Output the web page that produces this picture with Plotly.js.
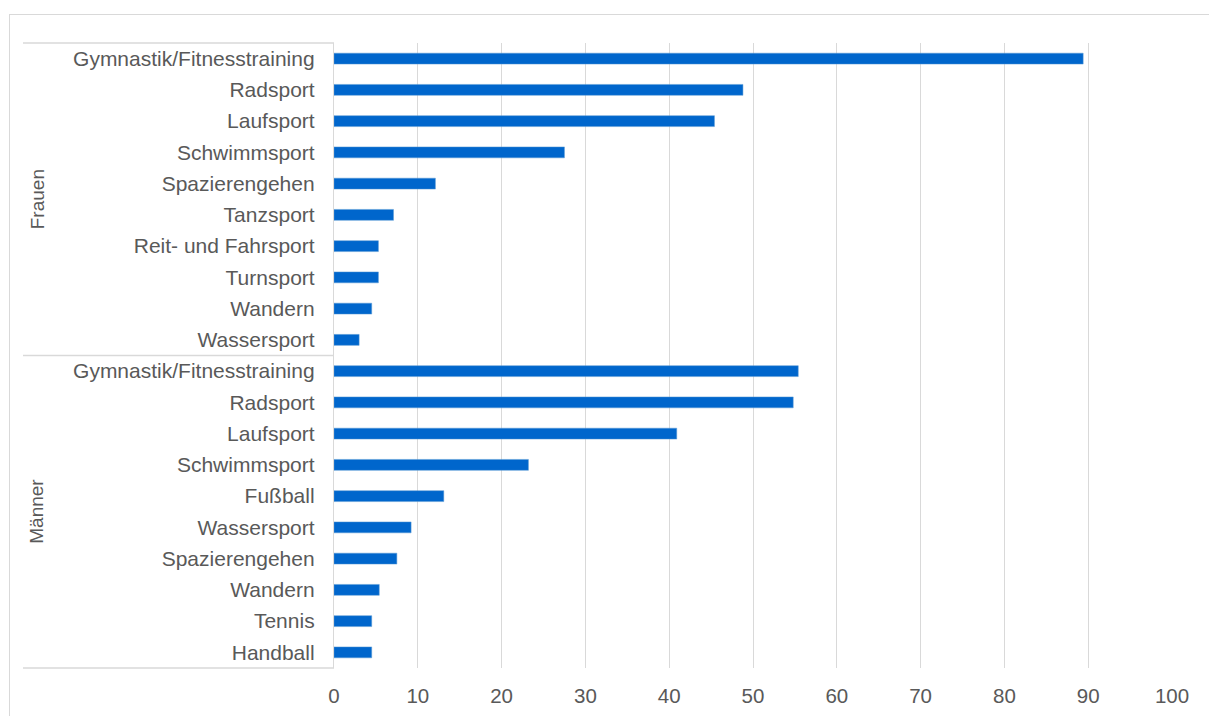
<!DOCTYPE html>
<html>
<head>
<meta charset="utf-8">
<script src="https://cdn.plot.ly/plotly-3.0.1.min.js"></script>
<style>
html,body{margin:0;padding:0;background:#fff;}
#frame{position:absolute;left:9px;top:14px;width:1210px;height:720px;border:1px solid #d9d9d9;box-sizing:border-box;}
#chart{position:absolute;left:0;top:0;width:1209px;height:716px;}
</style>
</head>
<body>
<div id="frame"></div>
<div id="chart"></div>
<script>
const groups = ["Frauen", "Männer"];
const frauenCategories = ["Gymnastik/Fitnesstraining","Radsport","Laufsport","Schwimmsport","Spazierengehen","Tanzsport","Reit- und Fahrsport","Turnsport","Wandern","Wassersport"];
const frauenValues = [89.4, 48.8, 45.4, 27.5, 12.1, 7.1, 5.3, 5.3, 4.5, 3.0];
const maennerCategories = ["Gymnastik/Fitnesstraining","Radsport","Laufsport","Schwimmsport","Fußball","Wassersport","Spazierengehen","Wandern","Tennis","Handball"];
const maennerValues = [55.4, 54.8, 40.9, 23.2, 13.1, 9.2, 7.5, 5.4, 4.5, 4.5];
const xTicks = [0,10,20,30,40,50,60,70,80,90,100];

const keys = [], labels = [], vals = [];
frauenCategories.forEach((c,i)=>{keys.push(groups[0]+"|"+c); labels.push(c); vals.push(frauenValues[i]);});
maennerCategories.forEach((c,i)=>{keys.push(groups[1]+"|"+c); labels.push(c); vals.push(maennerValues[i]);});

const fontFam = "Liberation Sans, Arial, sans-serif";
const grey = "#595959";
const lineCol = "#d9d9d9";

const trace = {
  type: "bar", orientation: "h",
  x: vals, y: keys,
  marker: {color: "#0066cc", line: {color: "#5b9bd5", width: 0.5}},
  hoverinfo: "x+text", text: labels, textposition: "none"
};

const layout = {
  width: 1209, height: 716,
  margin: {l: 334, r: 37, t: 43, b: 48, pad: 0},
  paper_bgcolor: "rgba(0,0,0,0)", plot_bgcolor: "rgba(0,0,0,0)",
  bargap: 0.65,
  showlegend: false,
  font: {family: fontFam, color: grey, size: 20},
  xaxis: {
    range: [0, 100], tickvals: xTicks, ticktext: xTicks.map(String),
    showgrid: true, gridcolor: lineCol, gridwidth: 1.3,
    zeroline: false, showline: false, ticks: "", ticklabelstandoff: 13,
    tickfont: {size: 20.5, color: grey, family: fontFam}, fixedrange: true
  },
  yaxis: {
    type: "category", categoryorder: "array", categoryarray: keys,
    tickvals: keys, ticktext: labels,
    range: [keys.length - 0.5, -0.5],
    showgrid: false, zeroline: false, showline: true, linecolor: lineCol, linewidth: 1.3,
    ticks: "", ticklabelstandoff: 14,
    tickfont: {size: 21, color: grey, family: fontFam}, fixedrange: true
  },
  shapes: [0, 0.5, 1].map(y => ({
    type: "line", xref: "paper", yref: "paper",
    x0: (23 - 334) / 838, x1: 0, y0: y, y1: y,
    line: {color: lineCol, width: 1.3}
  })),
  annotations: groups.map((g, i) => ({
    text: g, xref: "paper", yref: "paper",
    x: (37 - 334) / 838, y: i === 0 ? 0.75 : 0.25,
    xanchor: "center", yanchor: "middle", textangle: -90, showarrow: false,
    font: {size: 19, color: grey, family: fontFam}
  }))
};

Plotly.newPlot("chart", [trace], layout, {displayModeBar: false, staticPlot: false});
</script>
</body>
</html>
